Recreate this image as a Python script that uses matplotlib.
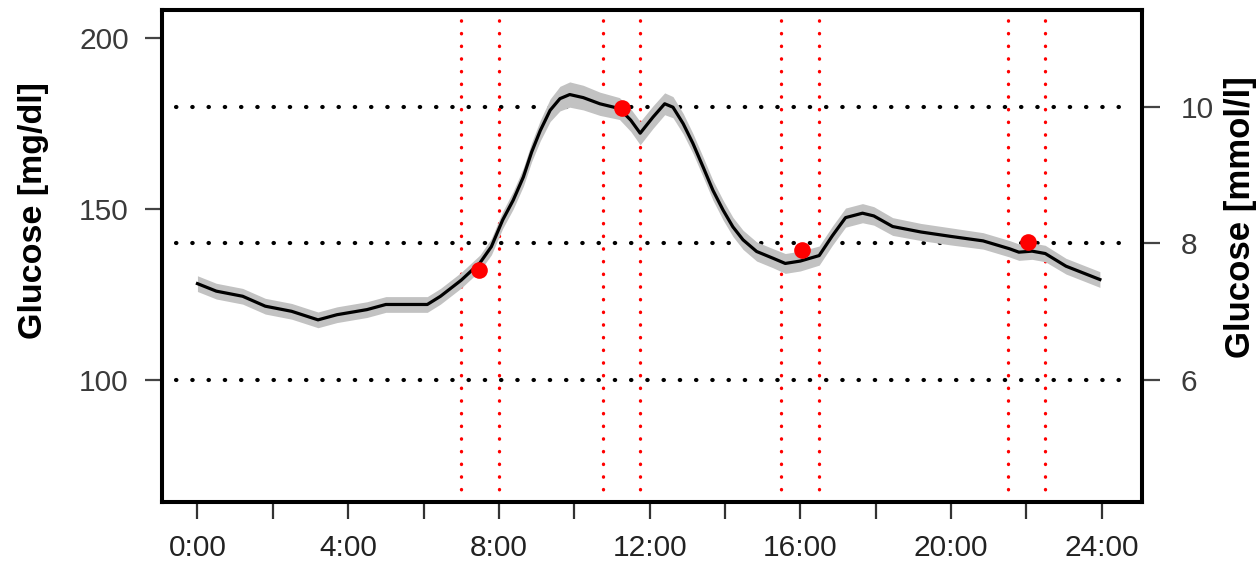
import numpy as np
import matplotlib.pyplot as plt

# mean glucose profile (hours, mg/dl)
hours = [0.0, 0.5, 1.2, 1.8, 2.5, 3.2, 3.7, 4.5, 5.0, 6.1, 6.45, 7.0, 7.5, 7.8,
         8.1, 8.38, 8.65, 8.87, 9.1, 9.36, 9.62, 9.88, 10.24, 10.68, 11.2,
         11.5, 11.75, 12.09, 12.4, 12.62, 12.89, 13.15, 13.42, 13.68, 13.95,
         14.21, 14.48, 14.84, 15.28, 15.6, 16.0, 16.5, 16.85, 17.2, 17.65,
         17.95, 18.45, 19.2, 20.0, 20.85, 21.55, 21.8, 22.15, 22.5, 23.05,
         23.95]
glucose_mgdl = [128.2, 126.0, 124.5, 121.6, 120.1, 117.6, 119.1, 120.6, 122.1,
                122.1, 124.5, 129.2, 134.3, 139.0, 146.8, 152.6, 159.4, 166.7,
                173.0, 178.9, 182.3, 183.5, 182.6, 180.8, 179.4, 176.0, 172.2,
                176.9, 180.8, 179.8, 175.0, 169.2, 162.3, 155.5, 149.7, 144.8,
                141.0, 137.6, 135.6, 134.1, 134.8, 136.4, 142.2, 147.5, 148.8,
                148.0, 144.9, 143.3, 142.0, 140.7, 138.4, 137.4, 137.7, 137.0,
                133.3, 129.4]
# half width of the grey band (mg/dl)
band_half = [2.3, 2.3, 2.3, 2.3, 2.3, 2.3, 2.3, 2.3, 2.3, 2.3, 2.3, 2.3, 2.3,
             2.4, 2.5, 2.6, 2.7, 2.8, 3.0, 3.3, 3.6, 3.7, 3.6, 3.4, 3.2, 3.3,
             3.4, 3.3, 3.2, 3.1, 3.0, 2.9, 2.9, 2.9, 2.9, 2.8, 2.8, 2.8, 2.8,
             2.9, 2.9, 2.8, 2.8, 2.8, 2.8, 2.7, 2.6, 2.5, 2.5, 2.4, 2.4, 2.4,
             2.4, 2.4, 2.3, 2.3]

# meal windows (start, end in hours) and meal markers
meal_start = [7.0, 10.75, 15.5, 21.5]
meal_end = [8.0, 11.75, 16.5, 22.5]
meal_time = [7.46, 11.26, 16.05, 22.03]
meal_glucose = [132.2, 179.6, 138.0, 140.3]

ref_levels = [100, 140, 180]
left_ticks = [100, 150, 200]
right_ticks = [100, 140, 180]
right_labels = ['6', '8', '10']
x_ticks = list(range(0, 25, 2))
x_labels = [f'{h}:00' if h % 4 == 0 else '' for h in x_ticks]

plt.rcParams['font.family'] = ['Liberation Sans', 'DejaVu Sans']

fig = plt.figure(figsize=(12.56, 5.61), dpi=100)
ax = fig.add_axes([0.129, 0.105, 0.78, 0.877])

h = np.array(hours)
g = np.array(glucose_mgdl)
b = np.array(band_half)
ax.fill_between(h, g - b, g + b, color='#c2c2c2', lw=0, zorder=2)
ax.plot(h, g, color='black', lw=2.3, zorder=3, solid_joinstyle='round')

ax.hlines(ref_levels, -0.57, 24.75, colors='black', lw=3,
          linestyles=[(0, (0.1, 3.8))], capstyle='round', zorder=1)
for s, e in zip(meal_start, meal_end):
    for xv in (s, e):
        ax.axvline(xv, color='red', lw=2.4, ls=(0, (0.1, 3.7)),
                   dash_capstyle='round', zorder=1)
ax.plot(meal_time, meal_glucose, 'o', color='red', ms=12, mec='none', zorder=4)

ax.set_xlim(-0.94, 25.06)
ax.set_ylim(64.3, 208.2)
ax.set_xticks(x_ticks)
ax.set_xticklabels(x_labels)
ax.set_yticks(left_ticks)

for sp in ax.spines.values():
    sp.set_linewidth(2.9)
ax.tick_params(axis='x', length=12, width=1.6, pad=11, labelsize=21.5,
               color='#333333', labelcolor='#222222')
ax.tick_params(axis='y', length=12, width=1.6, pad=12, labelsize=21.5,
               color='#444444', labelcolor='#3a3a3a')

ax2 = ax.twinx()
ax2.set_ylim(ax.get_ylim())
ax2.set_yticks(right_ticks)
ax2.set_yticklabels(right_labels)
ax2.tick_params(axis='y', length=13, width=1.6, pad=15, labelsize=21.5,
                color='#444444', labelcolor='#3a3a3a')
for sp in ax2.spines.values():
    sp.set_linewidth(2.9)

fig.text(0.027, 0.625, 'Glucose [mg/dl]', rotation=90, ha='center',
         va='center', fontsize=24.5, fontweight='bold')
fig.text(0.988, 0.613, 'Glucose [mmol/l]', rotation=90, ha='center',
         va='center', fontsize=25, fontweight='bold')

fig.savefig('out.png', dpi=100)
